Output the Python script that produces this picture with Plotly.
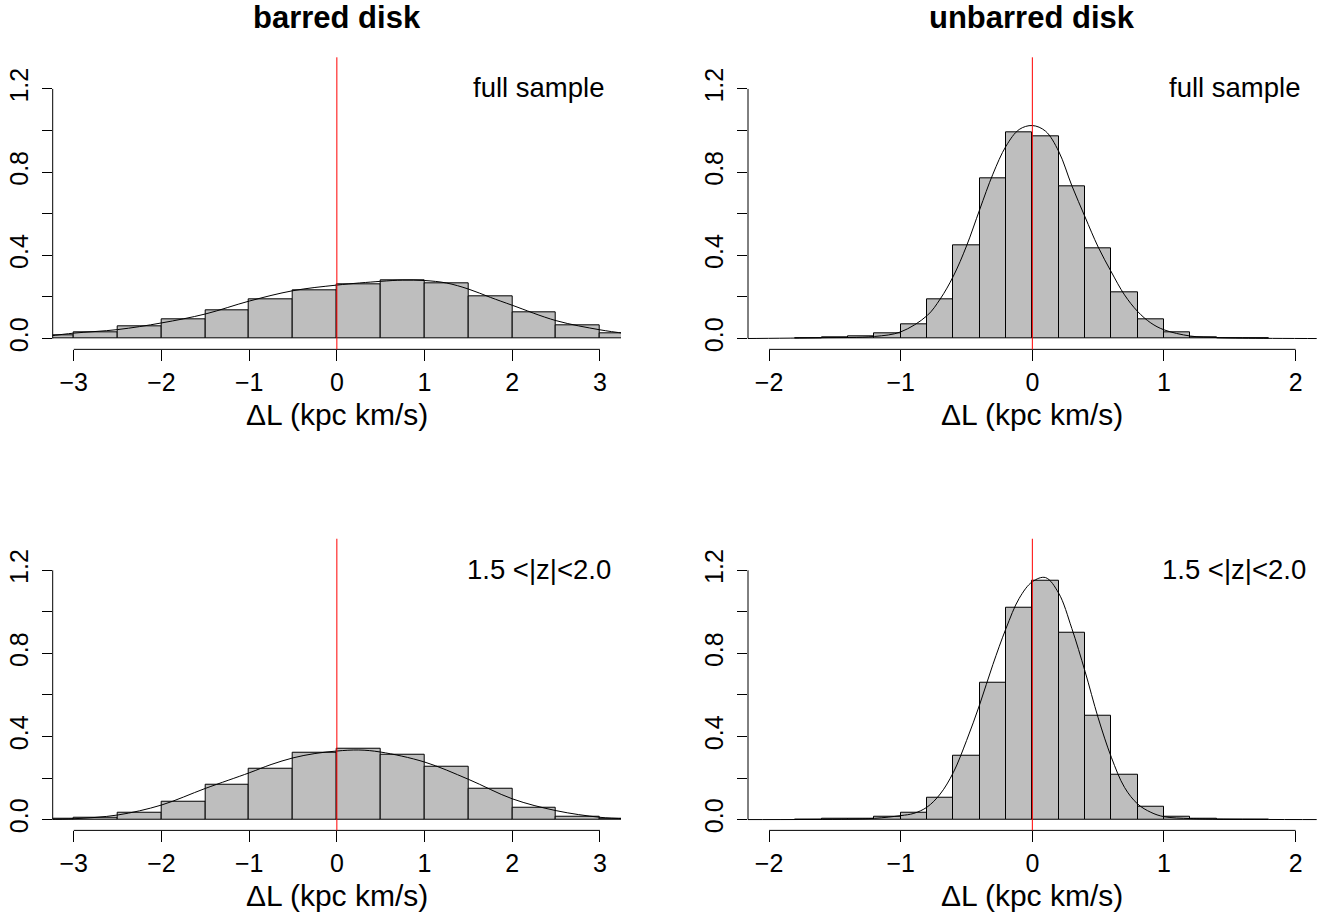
import plotly.graph_objects as go

# ---------------- data ----------------
barred_edges = [-3.5, -3.0, -2.5, -2.0, -1.5, -1.0, -0.5, 0.0, 0.5, 1.0, 1.5, 2.0, 2.5, 3.0, 3.5]
barred_full = [0.014, 0.030, 0.059, 0.093, 0.137, 0.190, 0.233, 0.262, 0.278, 0.265, 0.204, 0.126, 0.064, 0.026]
barred_z = [0.003, 0.010, 0.032, 0.086, 0.166, 0.243, 0.320, 0.340, 0.310, 0.254, 0.150, 0.059, 0.014, 0.005]

unbarred_edges = [-1.8, -1.6, -1.4, -1.2, -1.0, -0.8, -0.6, -0.4, -0.2, 0.0,
                  0.2, 0.4, 0.6, 0.8, 1.0, 1.2, 1.4, 1.6, 1.8]
unbarred_full = [0.002, 0.005, 0.011, 0.026, 0.070, 0.190, 0.447, 0.770, 0.990,
                 0.970, 0.733, 0.436, 0.220, 0.093, 0.030, 0.008, 0.003, 0.001]
unbarred_z = [0.001, 0.002, 0.005, 0.013, 0.035, 0.107, 0.307, 0.658, 1.018,
              1.150, 0.901, 0.498, 0.216, 0.062, 0.013, 0.003, 0.001, 0.001]

# density curves
kde_barred_full_x = [-3.3, -3.0, -2.5, -2.0, -1.5, -1.0, -0.5, 0.0, 0.5, 0.75, 1.0, 1.25, 1.5, 1.75, 2.0, 2.5, 3.0, 3.3]
kde_barred_full_y = [0.011, 0.026, 0.043, 0.075, 0.118, 0.180, 0.230, 0.257, 0.275, 0.281, 0.279, 0.267, 0.238, 0.198, 0.160, 0.086, 0.042, 0.024]

kde_barred_z_x = [-3.3, -3.0, -2.5, -2.0, -1.5, -1.0, -0.75, -0.5, -0.25, 0.0, 0.25, 0.5, 1.0, 1.5, 2.0, 2.5, 3.0, 3.3]
kde_barred_z_y = [0.001, 0.004, 0.022, 0.070, 0.150, 0.225, 0.265, 0.297, 0.318, 0.330, 0.335, 0.325, 0.277, 0.194, 0.100, 0.043, 0.011, 0.004]

kde_unbarred_full_x = [-2.2, -1.6, -1.2, -1.0, -0.8, -0.7, -0.6, -0.5, -0.4, -0.3, -0.2, -0.1, 0.0,
                       0.1, 0.2, 0.3, 0.4, 0.5, 0.6, 0.7, 0.8, 0.9, 1.0, 1.2, 1.4, 1.6, 2.2]
kde_unbarred_full_y = [0.0, 0.004, 0.010, 0.032, 0.110, 0.190, 0.300, 0.445, 0.620, 0.790, 0.925, 1.005, 1.024,
                       0.997, 0.900, 0.735, 0.585, 0.440, 0.320, 0.210, 0.130, 0.075, 0.042, 0.012, 0.005, 0.002, 0.0]

kde_unbarred_z_x = [-2.2, -1.4, -1.2, -1.0, -0.9, -0.8, -0.7, -0.6, -0.5, -0.4, -0.3, -0.2, -0.1, 0.0,
                    0.1, 0.2, 0.3, 0.4, 0.5, 0.6, 0.7, 0.8, 0.9, 1.0, 1.2, 1.4, 2.2]
kde_unbarred_z_y = [0.0, 0.002, 0.006, 0.019, 0.030, 0.060, 0.123, 0.227, 0.380, 0.554, 0.746, 0.920, 1.065, 1.145,
                    1.165, 1.090, 0.920, 0.714, 0.490, 0.300, 0.155, 0.075, 0.035, 0.014, 0.005, 0.002, 0.0]

column_titles = ["barred disk", "unbarred disk"]
panel_labels = ["full sample", "full sample", "1.5 <|z|<2.0", "1.5 <|z|<2.0"]
x_title = "ΔL (kpc km/s)"
left_ticks = [-3, -2, -1, 0, 1, 2, 3]
right_ticks = [-2, -1, 0, 1, 2]
y_ticks = [0.0, 0.2, 0.4, 0.6, 0.8, 1.0, 1.2]
y_ticklabels = ["0.0", "", "0.4", "", "0.8", "", "1.2"]

# ---------------- figure ----------------
FONT = "Liberation Sans, Arial, Helvetica, sans-serif"
W, H = 1330, 920

fig = go.Figure()

panels = [
    dict(edges=barred_edges, h=barred_full, kx=kde_barred_full_x, ky=kde_barred_full_y, ax=1, ticks=left_ticks, rng=3.24),
    dict(edges=unbarred_edges, h=unbarred_full, kx=kde_unbarred_full_x, ky=kde_unbarred_full_y, ax=2, ticks=right_ticks, rng=2.16),
    dict(edges=barred_edges, h=barred_z, kx=kde_barred_z_x, ky=kde_barred_z_y, ax=3, ticks=left_ticks, rng=3.24),
    dict(edges=unbarred_edges, h=unbarred_z, kx=kde_unbarred_z_x, ky=kde_unbarred_z_y, ax=4, ticks=right_ticks, rng=2.16),
]

xdom = {1: [52.7 / W, 621 / W], 2: [748 / W, 1316.7 / W]}
ydom = {1: [1 - 350.5 / H, 1 - 57.5 / H], 2: [1 - 833.1 / H, 1 - 540.5 / H]}

shapes = []
annotations = []

for i, p in enumerate(panels):
    n = p["ax"]
    xa = "x" if n == 1 else f"x{n}"
    ya = "y" if n == 1 else f"y{n}"
    e = p["edges"]
    centers = [(e[k] + e[k + 1]) / 2 for k in range(len(e) - 1)]
    widths = [e[k + 1] - e[k] for k in range(len(e) - 1)]
    fig.add_trace(go.Bar(x=centers, y=p["h"], width=widths, xaxis=xa, yaxis=ya,
                         marker=dict(color="#bebebe", line=dict(color="black", width=1)),
                         showlegend=False, hoverinfo="skip"))
    fig.add_trace(go.Scatter(x=p["kx"], y=p["ky"], mode="lines", xaxis=xa, yaxis=ya,
                             line=dict(color="black", width=1, shape="spline", smoothing=1.0),
                             showlegend=False, hoverinfo="skip"))

    col = 1 if n in (1, 3) else 2
    row = 1 if n in (1, 2) else 2
    xkey = "xaxis" if n == 1 else f"xaxis{n}"
    ykey = "yaxis" if n == 1 else f"yaxis{n}"
    fig.update_layout(**{
        xkey: dict(domain=xdom[col], anchor=ya, range=[-p["rng"], p["rng"]],
                   tickvals=p["ticks"], ticktext=[str(t).replace("-", "\u2212") for t in p["ticks"]],
                   ticks="outside", ticklen=11, tickwidth=1, tickcolor="black",
                   showline=False, showgrid=False, zeroline=False, ticklabelstandoff=0,
                   tickfont=dict(family=FONT, size=25, color="black")),
        ykey: dict(domain=ydom[row], anchor=xa, range=[-0.052, 1.352],
                   tickvals=y_ticks, ticktext=y_ticklabels, tickangle=-90,
                   ticks="outside", ticklen=10, tickwidth=1, tickcolor="black",
                   showline=False, showgrid=False, zeroline=False, ticklabelstandoff=4,
                   tickfont=dict(family=FONT, size=25, color="black")),
    })
    # partial axis lines (R style)
    shapes.append(dict(type="line", xref=xa, yref=f"{ya} domain", x0=p["ticks"][0], x1=p["ticks"][-1],
                       y0=0, y1=0, line=dict(color="black", width=1)))
    shapes.append(dict(type="line", xref=f"{xa} domain", yref=ya, x0=0, x1=0,
                       y0=y_ticks[0], y1=y_ticks[-1], line=dict(color="black", width=1)))
    # red reference line at zero
    shapes.append(dict(type="line", xref=xa, yref=f"{ya} domain", x0=0, x1=0, y0=0, y1=1,
                       line=dict(color="red", width=1)))
    # panel label
    annotations.append(dict(text=panel_labels[i], xref=f"{xa} domain", yref=f"{ya} domain",
                            x=0.855, y=0.895, xanchor="center", yanchor="middle", showarrow=False,
                            font=dict(family=FONT, size=27.5, color="black")))
    # x axis title
    annotations.append(dict(text=x_title, xref=f"{xa} domain", yref="paper",
                            x=0.5, y=1 - (416 + (row - 1) * 482.6) / H, xanchor="center", yanchor="middle",
                            showarrow=False, font=dict(family=FONT, size=30, color="black")))

for c, t in enumerate(column_titles):
    annotations.append(dict(text=f"<b>{t}</b>", xref="paper", yref="paper",
                            x=sum(xdom[c + 1]) / 2, y=1 - 18 / H, xanchor="center", yanchor="middle",
                            showarrow=False, font=dict(family=FONT, size=31, color="black")))

fig.update_layout(width=W, height=H, margin=dict(l=0, r=0, t=0, b=0),
                  paper_bgcolor="white", plot_bgcolor="white", bargap=0,
                  shapes=shapes, annotations=annotations)

fig.write_html("out.html")
